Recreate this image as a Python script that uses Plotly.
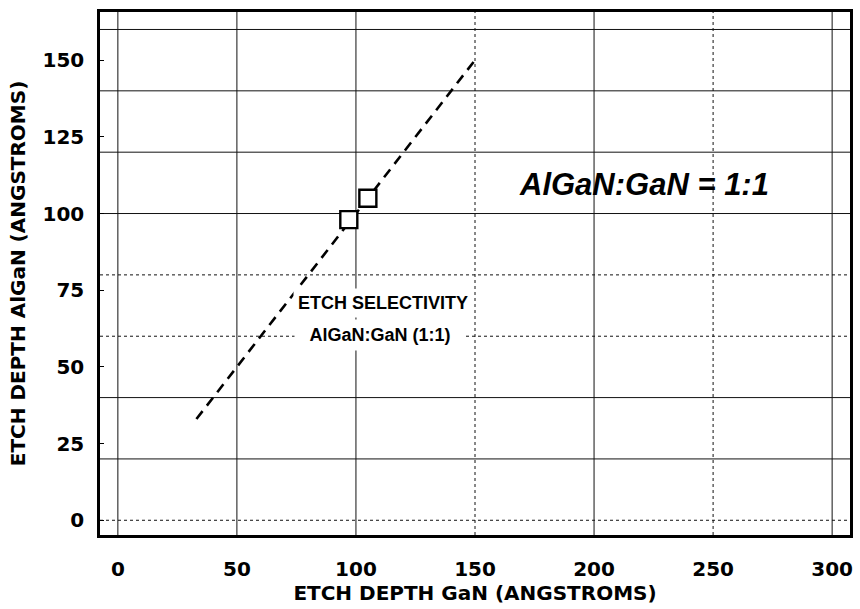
import plotly.graph_objects as go

# Measured etch depths (angstroms): GaN on x, AlGaN on y
gan_depth = [97, 105]
algan_depth = [98, 105]

# 1:1 selectivity reference line
ref_x = [33, 150]
ref_y = [33, 150]

# Axis tick labels
x_ticks = [0, 50, 100, 150, 200, 250, 300]
y_ticks = [0, 25, 50, 75, 100, 125, 150]

# Grid positions and their line style
x_grid = [0, 50, 100, 150, 200, 250, 300]
x_grid_dash = ["solid", "solid", "solid", "dot", "solid", "dot", "solid"]
y_grid = [0, 20, 40, 60, 80, 100, 120, 140, 160]
y_grid_dash = ["dot", "solid", "solid", "dot", "dot", "solid", "solid", "solid", "solid"]

BOLD = "DejaVu Sans"
HELV = "Liberation Sans, Arial, sans-serif"

fig = go.Figure()

fig.add_trace(go.Scatter(
    x=ref_x, y=ref_y, mode="lines",
    line=dict(color="black", width=2.6, dash="10px,7px"),
    hoverinfo="skip", showlegend=False,
))
fig.add_trace(go.Scatter(
    x=gan_depth, y=algan_depth, mode="markers",
    marker=dict(symbol="square", size=17, color="white",
                line=dict(color="black", width=2.4)),
    showlegend=False,
))

shapes = []
for v, d in zip(x_grid, x_grid_dash):
    shapes.append(dict(type="line", xref="x", yref="paper", x0=v, x1=v, y0=0, y1=1,
                       layer="below", line=dict(color="#111111", width=1, dash=d)))
for v, d in zip(y_grid, y_grid_dash):
    shapes.append(dict(type="line", xref="paper", yref="y", x0=0, x1=1, y0=v, y1=v,
                       layer="below", line=dict(color="#111111", width=1, dash=d)))

annotations = [
    dict(x=221, y=109.4, xref="x", yref="y", text="AlGaN:GaN = 1:1", showarrow=False,
         font=dict(family=HELV, size=31, color="black", weight="bold", style="italic")),
    dict(x=111.3, y=70.8, xref="x", yref="y", text="ETCH SELECTIVITY", showarrow=False,
         bgcolor="white", borderpad=4,
         font=dict(family=HELV, size=18, color="black", weight="bold")),
    dict(x=110.0, y=60.5, xref="x", yref="y", text="AlGaN:GaN (1:1)", showarrow=False,
         bgcolor="white", borderpad=5, width=160,
         font=dict(family=HELV, size=18, color="black", weight="bold")),
]

axis_common = dict(
    showgrid=False, zeroline=False,
    showline=True, linecolor="black", linewidth=2.5, mirror=True,
    tickfont=dict(family=BOLD, size=20, color="black", weight="bold"),
    title_font=dict(family=BOLD, size=20, color="black", weight="bold"),
)

fig.update_layout(
    width=860, height=609,
    margin=dict(l=100, r=7, t=12, b=67),
    paper_bgcolor="white", plot_bgcolor="white",
    showlegend=False,
    shapes=shapes,
    annotations=annotations,
    xaxis=dict(
        range=[-7.5, 307.5], tickmode="array", tickvals=x_ticks,
        ticks="", ticklabelstandoff=14,
        title=dict(text="ETCH DEPTH GaN (ANGSTROMS)", standoff=7),
        **axis_common,
    ),
    yaxis=dict(
        range=[-4.8, 165.7], tickmode="array", tickvals=y_ticks,
        ticks="inside", ticklen=4, tickcolor="black", tickwidth=1,
        ticklabelstandoff=9,
        title=dict(text="ETCH DEPTH AlGaN (ANGSTROMS)", standoff=12),
        **axis_common,
    ),
)

fig.write_html("out.html")
